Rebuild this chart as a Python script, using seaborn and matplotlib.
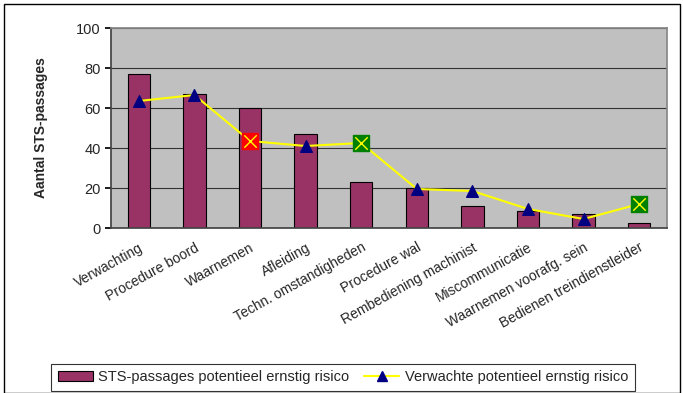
import matplotlib
matplotlib.use("Agg")
import matplotlib.pyplot as plt
from matplotlib.lines import Line2D
from matplotlib.patches import Patch, Rectangle
import pandas as pd
import seaborn as sns

categories = ["Verwachting", "Procedure boord", "Waarnemen", "Afleiding",
              "Techn. omstandigheden", "Procedure wal", "Rembediening machinist",
              "Miscommunicatie", "Waarnemen voorafg. sein", "Bedienen treindienstleider"]
sts_passages = [77, 67, 60, 47, 23, 20, 11, 8.5, 7, 2.5]
expected = [63.5, 66.5, 43.5, 41, 42.5, 19.5, 18.5, 9.5, 4.5, 12]
marker_kind = ["tri", "tri", "red", "tri", "green", "tri", "tri", "tri", "tri", "green"]

sns.set_theme(style="white")
plt.rcParams["font.family"] = ["Liberation Sans", "DejaVu Sans"]

df = pd.DataFrame({"cat": categories, "bars": sts_passages,
                   "line": expected, "kind": marker_kind})
df["pos"] = range(len(df))

fig = plt.figure(figsize=(6.83, 3.93), dpi=100)
ax = fig.add_axes([111 / 683, 165 / 393, 556 / 683, 200 / 393])
ax.set_facecolor("#C0C0C0")

sns.barplot(data=df, x="cat", y="bars", ax=ax, color="#993366", width=0.4,
            edgecolor="black", linewidth=0.8, saturation=1, zorder=2)
sns.lineplot(data=df, x="pos", y="line", ax=ax, color="#FFFF00", linewidth=1.5,
             sort=False, zorder=3)

tri = df[df["kind"] == "tri"]
ax.scatter(tri["pos"], tri["line"], marker="^", s=70, color="#000080", zorder=4)
for kind, col in [("red", "#FF0000"), ("green", "#008000")]:
    sub = df[df["kind"] == kind]
    ax.scatter(sub["pos"], sub["line"], marker="s", s=120, color=col, zorder=4)
    ax.scatter(sub["pos"], sub["line"], marker="x", s=80, color="#FFFF00",
               linewidths=1, zorder=5)

ax.set_xlim(-0.5, len(categories) - 0.5)
ax.set_ylim(0, 100)
ax.set_yticks([0, 20, 40, 60, 80, 100])
ax.yaxis.grid(True, color="#333333", linewidth=0.8, zorder=0)
ax.set_axisbelow(True)
for s in ["left", "bottom"]:
    ax.spines[s].set_color("#444444")
for s in ["top", "right"]:
    ax.spines[s].set_visible(True)
    ax.spines[s].set_color("#888888")

ax.set_xticks(range(len(categories)))
ax.set_xticklabels(categories, rotation=29, ha="right", rotation_mode="anchor",
                   fontsize=10)
ax.tick_params(axis="x", length=0, pad=9)
ax.set_xticks([i - 0.5 for i in range(len(categories) + 1)], minor=True)
ax.tick_params(axis="x", which="minor", length=4, color="black", direction="out")
ax.tick_params(axis="y", length=4, color="black", direction="out", labelsize=10.5,
               left=True)
ax.set_xlabel("")
ax.set_ylabel("Aantal STS-passages", fontsize=10, fontweight="bold", labelpad=20)

handles = [Patch(facecolor="#993366", edgecolor="black", linewidth=0.8),
           Line2D([], [], color="#FFFF00", linewidth=1.5, marker="^",
                  markerfacecolor="#000080", markeredgecolor="#000080", markersize=7)]
labels = ["STS-passages potentieel ernstig risico", "Verwachte potentieel ernstig risico"]
leg = fig.legend(handles, labels, loc="lower center", bbox_to_anchor=(343 / 683, 2 / 393),
                 ncol=2, fontsize=10.5, frameon=True, fancybox=False, borderpad=0.45,
                 handlelength=2.4, columnspacing=1.0, handletextpad=0.4,
                 borderaxespad=0)
leg.get_frame().set_edgecolor("black")
leg.get_frame().set_linewidth(0.8)

fig.patches.append(Rectangle((4 / 683, 0.0), 676 / 683, 389 / 393,
                             transform=fig.transFigure, fill=False,
                             edgecolor="black", linewidth=1))

fig.savefig("out.png", dpi=100)
